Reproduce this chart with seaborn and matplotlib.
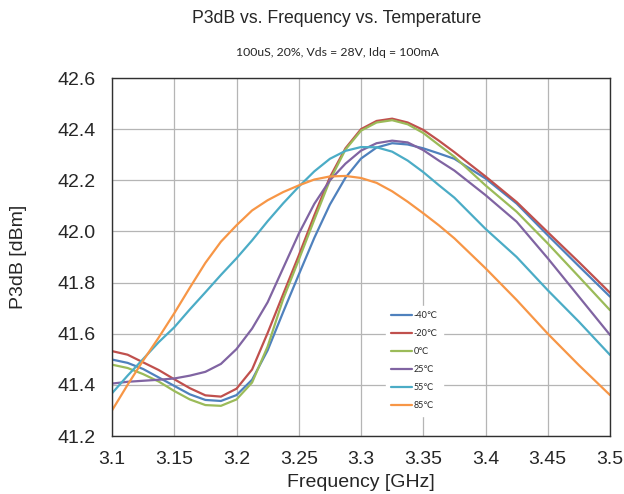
import pandas as pd
import matplotlib
matplotlib.use("Agg")
import matplotlib.pyplot as plt
import seaborn as sns

# frequency points (GHz), finer where the curves bend
freq = [3.1, 3.1125, 3.125, 3.1375, 3.15, 3.1625, 3.175, 3.1875, 3.2, 3.2125,
        3.225, 3.2375, 3.25, 3.2625, 3.275, 3.2875, 3.3, 3.3125, 3.325, 3.3375,
        3.35, 3.3625, 3.375, 3.4, 3.425, 3.45, 3.475, 3.5]

# P3dB [dBm], one list per temperature
p_m40 = [41.499, 41.486, 41.462, 41.429, 41.396, 41.363, 41.341, 41.337, 41.36, 41.42,
         41.535, 41.685, 41.831, 41.975, 42.105, 42.21, 42.285, 42.328, 42.345, 42.34,
         42.325, 42.305, 42.284, 42.207, 42.109, 41.985, 41.864, 41.745]
p_m20 = [41.532, 41.518, 41.488, 41.458, 41.422, 41.387, 41.359, 41.354, 41.385, 41.46,
         41.603, 41.755, 41.906, 42.063, 42.212, 42.325, 42.40, 42.432, 42.441, 42.426,
         42.397, 42.355, 42.31, 42.215, 42.115, 41.997, 41.88, 41.76]
p_0 = [41.479, 41.466, 41.442, 41.413, 41.376, 41.343, 41.321, 41.318, 41.343, 41.409,
       41.55, 41.736, 41.889, 42.046, 42.2, 42.32, 42.394, 42.426, 42.435, 42.419,
       42.385, 42.338, 42.292, 42.18, 42.077, 41.953, 41.823, 41.692]
p_25 = [41.405, 41.412, 41.416, 41.42, 41.425, 41.436, 41.451, 41.482, 41.54, 41.62,
        41.723, 41.857, 41.991, 42.108, 42.2, 42.265, 42.316, 42.345, 42.355, 42.348,
        42.318, 42.277, 42.238, 42.142, 42.038, 41.895, 41.745, 41.595]
p_55 = [41.367, 41.436, 41.501, 41.567, 41.625, 41.695, 41.762, 41.83, 41.895, 41.965,
        42.04, 42.11, 42.175, 42.235, 42.284, 42.315, 42.33, 42.329, 42.312, 42.277,
        42.232, 42.181, 42.132, 42.01, 41.90, 41.77, 41.647, 41.517]
p_85 = [41.30, 41.40, 41.495, 41.585, 41.68, 41.78, 41.877, 41.96, 42.024, 42.082,
        42.122, 42.154, 42.18, 42.203, 42.215, 42.217, 42.209, 42.19, 42.157, 42.116,
        42.071, 42.024, 41.973, 41.856, 41.732, 41.60, 41.477, 41.36]

temps = ["-40℃", "-20℃", "0℃", "25℃", "55℃", "85℃"]
series = [p_m40, p_m20, p_0, p_25, p_55, p_85]
colors = ["#4F81BD", "#C0504D", "#9BBB59", "#8064A2", "#4BACC6", "#F79646"]

rows = []
for t, vals in zip(temps, series):
    for f, v in zip(freq, vals):
        rows.append({"freq": f, "p3db": v, "temp": t})
data = pd.DataFrame(rows)

sns.set_style("white")
plt.rcParams["font.family"] = ["Liberation Sans", "DejaVu Sans"]

fig = plt.figure(figsize=(6.24, 4.94), dpi=100)
ax = fig.add_axes([0.1795, 0.1174, 0.7981, 0.7247])

sns.lineplot(data=data, x="freq", y="p3db", hue="temp", hue_order=temps,
             palette=colors, linewidth=1.6, ax=ax)

xt = [3.1, 3.15, 3.2, 3.25, 3.3, 3.35, 3.4, 3.45, 3.5]
yt = [41.2, 41.4, 41.6, 41.8, 42.0, 42.2, 42.4, 42.6]
ax.set_xlim(3.1, 3.5)
ax.set_ylim(41.2, 42.6)
ax.set_xticks(xt)
ax.set_xticklabels([f"{v:g}" for v in xt])
ax.set_yticks(yt)
ax.set_yticklabels([f"{v:.1f}" for v in yt])
ax.tick_params(axis="both", labelsize=14, length=0)
ax.tick_params(axis="x", pad=11)
ax.tick_params(axis="y", pad=12)
ax.grid(True, color="#b5b5b5", linewidth=0.9)
for s in ax.spines.values():
    s.set_color("#303030")
    s.set_linewidth(1.0)

ax.set_xlabel("Frequency [GHz]", fontsize=14, labelpad=4)
ax.set_ylabel("P3dB [dBm]", fontsize=14, labelpad=22)

fig.text(0.54, 0.962, "P3dB vs. Frequency vs. Temperature", ha="center", va="center", fontsize=12.7)
fig.text(0.54, 0.894, "100uS, 20%, Vds = 28V, Idq = 100mA", ha="center", va="center",
         fontsize=8.8, family=["Lato", "DejaVu Sans"])

leg = ax.legend(loc="center", bbox_to_anchor=(0.607, 0.21), frameon=True,
                prop={"family": ["Lato", "DejaVu Sans"], "size": 6.5},
                handlelength=2.3, handletextpad=0.2, labelspacing=1.0,
                borderpad=0.6, fancybox=False)
leg.get_frame().set_facecolor("white")
leg.get_frame().set_edgecolor("white")
leg.get_frame().set_alpha(1.0)

fig.savefig("out.png", dpi=100)
